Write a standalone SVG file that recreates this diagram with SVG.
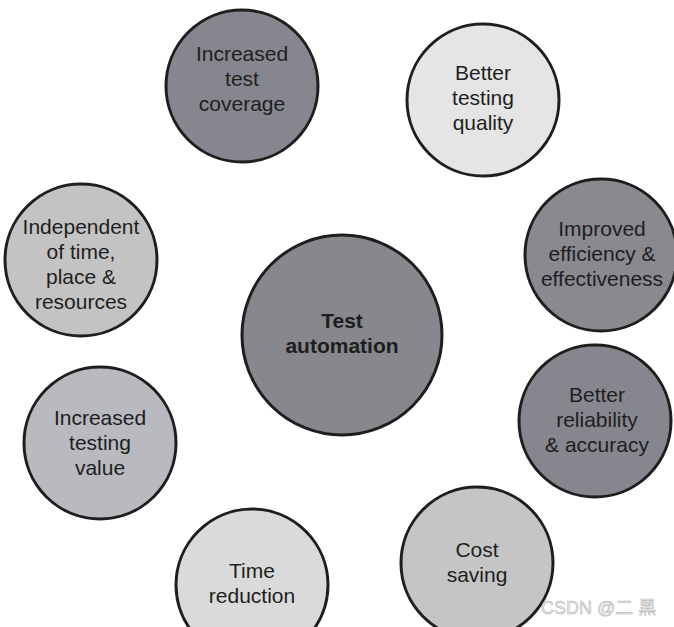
<svg xmlns="http://www.w3.org/2000/svg" width="674" height="627" viewBox="0 0 674 627">
<style>
.c{stroke:#1e1e1e;stroke-width:3}
.t{font-family:"Liberation Sans",Arial,sans-serif;font-size:21px;fill:#1e1e1e;text-anchor:middle}
.b{font-weight:bold}
.w{font-family:"Liberation Sans","Noto Sans CJK SC",sans-serif;font-size:18px;fill:#e8e8e8;stroke:#b0b0b0;stroke-width:0.5}
</style>
<rect width="674" height="627" fill="#ffffff"/>
<g id="connectors"/>
<g id="n-center"><circle class="c" cx="342" cy="335" r="100" fill="#87878e"/>
<text class="t b" x="342" y="328">Test</text><text class="t b" x="342" y="353">automation</text></g>
<g id="n-coverage"><circle class="c" cx="242" cy="86" r="76" fill="#86868e"/>
<text class="t" x="242" y="61">Increased</text><text class="t" x="242" y="86">test</text><text class="t" x="242" y="111">coverage</text></g>
<g id="n-quality"><circle class="c" cx="483" cy="100" r="76" fill="#e5e5e5"/>
<text class="t" x="483" y="80">Better</text><text class="t" x="483" y="105">testing</text><text class="t" x="483" y="130">quality</text></g>
<g id="n-efficiency"><circle class="c" cx="601" cy="255" r="76" fill="#89898f"/>
<text class="t" x="602" y="236">Improved</text><text class="t" x="602" y="261">efficiency &amp;</text><text class="t" x="602" y="286">effectiveness</text></g>
<g id="n-reliability"><circle class="c" cx="595" cy="421" r="76" fill="#86868e"/>
<text class="t" x="597" y="402">Better</text><text class="t" x="597" y="427">reliability</text><text class="t" x="597" y="452">&amp; accuracy</text></g>
<g id="n-cost"><circle class="c" cx="477" cy="563" r="76" fill="#c5c5c5"/>
<text class="t" x="477" y="557">Cost</text><text class="t" x="477" y="582">saving</text></g>
<g id="n-time"><circle class="c" cx="252" cy="585" r="76" fill="#dadada"/>
<text class="t" x="252" y="578">Time</text><text class="t" x="252" y="603">reduction</text></g>
<g id="n-value"><circle class="c" cx="100" cy="443" r="76" fill="#b9b9c0"/>
<text class="t" x="100" y="425">Increased</text><text class="t" x="100" y="450">testing</text><text class="t" x="100" y="475">value</text></g>
<g id="n-independent"><circle class="c" cx="81" cy="260" r="76" fill="#c3c3c3"/>
<text class="t" x="81" y="234">Independent</text><text class="t" x="81" y="259">of time,</text><text class="t" x="81" y="284">place &amp;</text><text class="t" x="81" y="309">resources</text></g>
<text class="w" x="541" y="614">CSDN @二 黑</text>
</svg>
